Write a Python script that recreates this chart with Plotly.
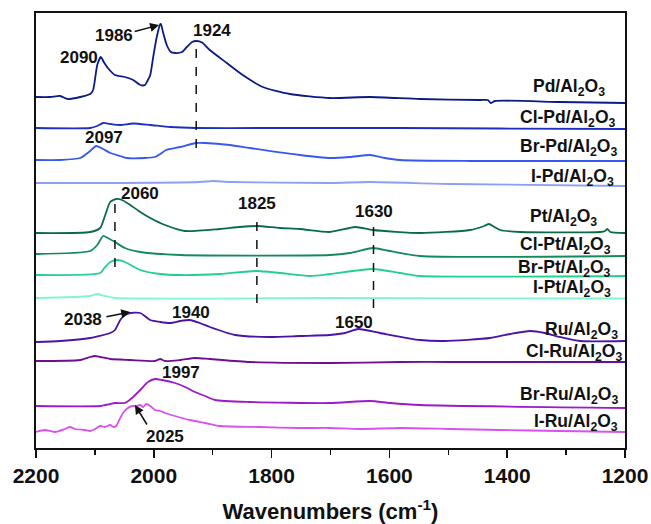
import plotly.graph_objects as go

# ---------------- data (wavenumbers in cm-1, intensity in arbitrary stacked units) -------------
pd_wn = [2200, 2176, 2159, 2146, 2125, 2108, 2103, 2096, 2090, 2085, 2078, 2066, 2049, 2035, 2023, 2015, 2010, 2006, 2001, 1995, 1989, 1988, 1984, 1978, 1971, 1964, 1952, 1944, 1935, 1928, 1918, 1905, 1876, 1849, 1815, 1769, 1701, 1633, 1548, 1446, 1433, 1428, 1421, 1310, 1200]
pd_y = [351, 351, 352, 349, 351, 354, 358, 383, 391, 386, 380, 373, 371, 368, 363, 363, 368, 373, 391, 411, 424, 424, 415, 403, 396, 395, 396, 401, 406, 407, 405.5, 398, 385, 373, 361, 354, 350, 351, 349, 348, 348, 345, 347, 346, 345]

clpd_wn = [2200, 2108, 2096, 2086, 2074, 2057, 2035, 2006, 1972, 1928, 1820, 1701, 1582, 1412, 1200]
clpd_y = [320, 320, 322, 325, 324, 323, 324.5, 323, 321, 320, 320, 320, 320, 319.5, 319]

brpd_wn = [2200, 2159, 2125, 2108, 2098, 2086, 2074, 2057, 2046, 2015, 1998, 1989, 1979, 1955, 1928, 1913, 1871, 1837, 1752, 1701, 1667, 1633, 1608, 1582, 1463, 1200]
brpd_y = [288, 288, 290, 297, 302, 299, 295, 292, 290, 290, 291, 294, 298, 301, 305, 305, 303, 300, 293, 290, 291, 293, 290, 288, 287, 287]

ipd_wn = [2200, 2091, 1922, 1900, 1871, 1701, 1633, 1497, 1200]
ipd_y = [265, 265, 266, 267, 266, 265, 266, 264, 262]

pt_wn = [2200, 2108, 2091, 2083, 2074, 2064, 2054, 2040, 2023, 2006, 1981, 1947, 1888, 1854, 1825, 1786, 1752, 1701, 1658, 1628, 1548, 1463, 1439, 1431, 1422, 1412, 1378, 1242, 1234, 1230, 1225, 1200]
pt_y = [215, 216, 220, 232, 246, 249, 248, 243, 236, 230, 223, 217, 219, 221, 222, 220, 219, 216, 221, 218, 215, 218, 222, 224, 221, 218, 216, 216, 217, 219, 216, 215]

clpt_wn = [2200, 2108, 2096, 2086, 2078, 2066, 2049, 2023, 1955, 1701, 1667, 1628, 1599, 1548, 1200]
clpt_y = [194, 197, 203, 212, 210, 206, 200, 196, 193, 193, 195, 200, 197, 192, 192]

brpt_wn = [2200, 2091, 2084, 2074, 2061, 2049, 2023, 1989, 1955, 1888, 1825, 1786, 1735, 1701, 1628, 1582, 1548, 1200]
brpt_y = [173, 175, 180, 186, 188, 186, 178, 174, 173, 174, 177, 175, 172, 174, 179, 175, 172, 172]

ipt_wn = [2200, 2108, 2096, 2083, 2066, 1701, 1200]
ipt_y = [150, 152, 154, 152, 150, 150, 149.5]

ru_wn = [2200, 2159, 2108, 2074, 2066, 2057, 2049, 2040, 2023, 2006, 1989, 1972, 1955, 1939, 1922, 1905, 1862, 1803, 1752, 1701, 1675, 1653, 1616, 1548, 1506, 1429, 1395, 1361, 1336, 1310, 1276, 1200]
ru_y = [106, 107, 110, 115, 118, 128, 133, 135, 135, 128, 126, 125, 127, 128, 125, 121, 113, 111, 112, 113, 115, 119, 115, 108, 107, 110, 114, 117, 115, 111, 107, 107]

clru_wn = [2200, 2125, 2108, 2100, 2091, 2074, 2040, 1998, 1989, 1981, 1955, 1930, 1905, 1837, 1701, 1582, 1497, 1200]
clru_y = [87, 88, 91, 92, 91, 89, 88, 87, 89, 87, 88, 90, 89, 86, 85, 86, 86, 86]

brru_wn = [2200, 2091, 2074, 2066, 2049, 2037, 2023, 2010, 1998, 1986, 1964, 1947, 1930, 1913, 1896, 1837, 1701, 1633, 1599, 1548, 1200]
brru_y = [42, 42, 44, 45, 45, 50, 58, 66, 69, 68, 65, 61, 56, 52, 48, 46, 45, 47, 45, 43, 40]

iru_wn = [2200, 2185, 2168, 2151, 2142, 2134, 2117, 2108, 2100, 2091, 2083, 2074, 2069, 2064, 2057, 2051, 2044, 2037, 2030, 2023, 2018, 2013, 2006, 1998, 1989, 1981, 1964, 1939, 1913, 1888, 1820, 1752, 1701, 1650, 1582, 1497, 1412, 1310, 1200]
iru_y = [16, 18, 16, 19, 21, 19, 18, 17, 19, 22, 21, 23, 21, 22, 30, 36, 40, 42, 42, 43, 41, 44, 42, 38, 37, 35, 32, 28, 25, 22, 21, 20, 20, 19, 20, 19, 18, 17, 16]

series_names = ["Pd/Al<sub>2</sub>O<sub>3</sub>", "Cl-Pd/Al<sub>2</sub>O<sub>3</sub>", "Br-Pd/Al<sub>2</sub>O<sub>3</sub>", "I-Pd/Al<sub>2</sub>O<sub>3</sub>",
                "Pt/Al<sub>2</sub>O<sub>3</sub>", "Cl-Pt/Al<sub>2</sub>O<sub>3</sub>", "Br-Pt/Al<sub>2</sub>O<sub>3</sub>", "I-Pt/Al<sub>2</sub>O<sub>3</sub>",
                "Ru/Al<sub>2</sub>O<sub>3</sub>", "Cl-Ru/Al<sub>2</sub>O<sub>3</sub>", "Br-Ru/Al<sub>2</sub>O<sub>3</sub>", "I-Ru/Al<sub>2</sub>O<sub>3</sub>"]
series_wn = [pd_wn, clpd_wn, brpd_wn, ipd_wn, pt_wn, clpt_wn, brpt_wn, ipt_wn, ru_wn, clru_wn, brru_wn, iru_wn]
series_y = [pd_y, clpd_y, brpd_y, ipd_y, pt_y, clpt_y, brpt_y, ipt_y, ru_y, clru_y, brru_y, iru_y]
series_colors = ["#0c1a86", "#1b30c2", "#3558f0", "#8c9ef5",
                 "#0a6b48", "#128a5c", "#22d08e", "#80f5d4",
                 "#4a12a8", "#6c0f92", "#9c19c8", "#d850f0"]

# label anchor (right edge wavenumber, vertical position)
label_wn = [1231, 1212, 1210, 1215, 1244, 1220, 1220, 1220, 1208, 1202, 1208, 1208]
label_y = [361, 330, 301, 271, 231, 203, 180, 160, 118, 96, 53, 26]

# peak labels
peak_text = ["2090", "1986", "1924", "2097", "2060", "1825", "1630", "2038", "1940", "1650", "1997", "2025"]
peak_wn = [2127, 2068, 1901, 2085, 2023, 1825, 1626, 2120, 1937, 1660, 1954, 1981]
peak_y = [391, 413, 418, 311, 255, 245, 237, 129, 136, 126, 76, 12]

# dashed marker lines: wavenumber, y from, y to
dash_wn = [1928, 2066, 1825, 1627]
dash_y0 = [300, 181, 145, 140]
dash_y1 = [407, 251, 232, 226]

# arrows: tip (wn, y), tail (wn, y)
arrow_tip_wn = [1991, 2040, 2032]
arrow_tip_y = [423, 136, 43]
arrow_tail_wn = [2035, 2083, 2010]
arrow_tail_y = [416, 131, 22]

# ---------------- figure ----------------
FONT = "Liberation Sans, Arial, sans-serif"
fig = go.Figure()
for wn, yv, c in zip(series_wn, series_y, series_colors):
    fig.add_trace(go.Scatter(x=wn, y=yv, mode="lines",
                             line=dict(color=c, width=1.8, shape="spline", smoothing=0.6),
                             showlegend=False, hoverinfo="skip"))

ann = []
for t, xw, yv in zip(series_names, label_wn, label_y):
    ann.append(dict(x=xw, y=yv, xref="x", yref="y", text="<b>" + t + "</b>", showarrow=False,
                    xanchor="right", yanchor="middle", font=dict(family=FONT, size=17.5, color="#111")))
for t, xw, yv in zip(peak_text, peak_wn, peak_y):
    ann.append(dict(x=xw, y=yv, xref="x", yref="y", text="<b>" + t + "</b>", showarrow=False,
                    xanchor="center", yanchor="middle", font=dict(family=FONT, size=17, color="#111")))
for tx, ty, ax, ay in zip(arrow_tip_wn, arrow_tip_y, arrow_tail_wn, arrow_tail_y):
    ann.append(dict(x=tx, y=ty, ax=ax, ay=ay, xref="x", yref="y", axref="x", ayref="y",
                    text="", showarrow=True, arrowhead=2, arrowsize=1.2, arrowwidth=1.5, arrowcolor="#111"))

shapes = []
for xw, y0, y1 in zip(dash_wn, dash_y0, dash_y1):
    shapes.append(dict(type="line", xref="x", yref="y", x0=xw, x1=xw, y0=y0, y1=y1,
                       line=dict(color="#111", width=1.5, dash="dash")))

fig.update_layout(
    width=651, height=524,
    margin=dict(l=36, r=26, t=13, b=76, autoexpand=False),
    paper_bgcolor="white", plot_bgcolor="white",
    annotations=ann, shapes=shapes,
    xaxis=dict(range=[2200, 1200], tickmode="array", tickvals=[2200, 2000, 1800, 1600, 1400, 1200],
               ticks="outside", ticklen=8, tickwidth=1.5, tickcolor="#111",
               minor=dict(tickvals=[2100, 1900, 1700, 1500, 1300], ticks="outside", ticklen=5, tickwidth=1.5, tickcolor="#111"),
               showline=True, linecolor="#111", linewidth=1.8, mirror=True, showgrid=False, zeroline=False,
               automargin=False,
               tickfont=dict(family=FONT, size=21, color="#111", weight="bold"),
               title=dict(text="<b>Wavenumbers (cm<sup>-1</sup>)</b>", font=dict(family=FONT, size=22, color="#111"), standoff=18)),
    yaxis=dict(range=[0, 435], showticklabels=False, ticks="", showgrid=False, zeroline=False,
               showline=True, linecolor="#111", linewidth=1.8, mirror=True, automargin=False),
)
# remove the default 8px page margin so the figure fills the window exactly
fig.write_html("out.html", config={"displayModeBar": False, "staticPlot": True},
               post_script="document.body.style.margin='0';document.body.style.overflow='hidden';")
